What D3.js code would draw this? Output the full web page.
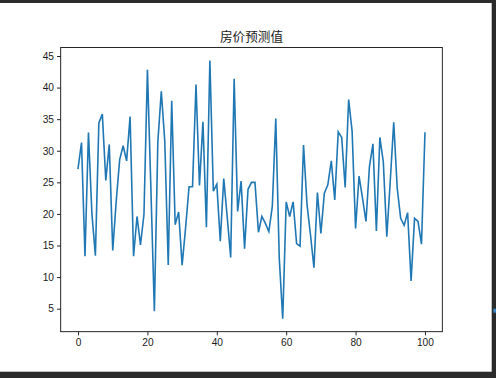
<!DOCTYPE html>
<html>
<head>
<meta charset="utf-8">
<script src="https://cdn.jsdelivr.net/npm/d3@7"></script>
<style>
  html, body { margin: 0; padding: 0; background: #2b2b2b; }
  svg { display: block; }
</style>
</head>
<body>
<div id="chart"></div>
<script>
// ---- data ----
const title = "房价预测值";
const predicted = [
  27.2, 31.3, 13.3, 32.9, 20.0, 13.4, 34.4, 35.8, 25.3, 31.0,
  14.2, 22.0, 28.6, 30.8, 28.4, 35.4, 13.3, 19.6, 15.1, 19.9,
  42.8, 24.0, 4.6, 31.4, 39.4, 31.5, 11.9, 37.9, 18.3, 20.3,
  11.9, 17.8, 24.3, 24.3, 40.5, 24.5, 34.6, 17.9, 44.3, 23.6,
  24.7, 15.7, 25.6, 19.5, 13.1, 41.4, 20.4, 25.2, 14.5, 23.9,
  25.0, 25.0, 17.1, 19.6, 18.5, 17.2, 21.2, 35.1, 13.0, 3.4,
  21.9, 19.6, 21.9, 15.3, 14.9, 30.9, 21.5, 16.7, 11.5, 23.4,
  16.9, 23.3, 24.6, 28.4, 22.2, 33.0, 32.1, 24.2, 38.1, 33.1,
  17.7, 26.0, 22.5, 18.8, 27.5, 31.1, 17.3, 32.1, 28.2, 16.4,
  25.2, 34.5, 24.1, 19.3, 18.2, 20.2, 9.4, 19.3, 18.8, 15.2,
  32.8
];
const xTicks = [0, 20, 40, 60, 80, 100];
const yTicks = [5, 10, 15, 20, 25, 30, 35, 40, 45];

// ---- layout ----
const W = 496, H = 378;
const plot = { left: 60.7, right: 442.3, top: 47.5, bottom: 331.7 };

const svg = d3.select("#chart").append("svg")
  .attr("width", W).attr("height", H);

// figure (white) area inside dark screenshot frame
svg.append("rect").attr("x", 0).attr("y", 3).attr("width", 491.7).attr("height", 368.7)
  .attr("fill", "#ffffff");
// small blue marker at right edge
svg.append("rect").attr("x", 493.3).attr("y", 308.7).attr("width", 2.7).attr("height", 4)
  .attr("fill", "#3c84c6");

const n = predicted.length;
const xs = d3.scaleLinear()
  .domain([-(n - 1) * 0.05, (n - 1) * 1.05])
  .range([plot.left, plot.right]);
const [ymin, ymax] = d3.extent(predicted);
const pad = (ymax - ymin) * 0.05;
const ys = d3.scaleLinear()
  .domain([ymin - pad, ymax + pad])
  .range([plot.bottom, plot.top]);

const fontTicks = "'Liberation Sans', Arial, sans-serif";

// x axis
const xAxis = svg.append("g")
  .attr("transform", `translate(0,${plot.bottom})`)
  .call(d3.axisBottom(xs).tickValues(xTicks).tickSize(3.7).tickPadding(3.2).tickFormat(d3.format("d")));
// y axis
const yAxis = svg.append("g")
  .attr("transform", `translate(${plot.left},0)`)
  .call(d3.axisLeft(ys).tickValues(yTicks).tickSize(3.7).tickPadding(3.0).tickFormat(d3.format("d")));

[xAxis, yAxis].forEach(a => {
  a.select(".domain").remove();
  a.selectAll(".tick line").attr("stroke", "#000").attr("stroke-width", 0.85);
  a.selectAll(".tick text").attr("fill", "#1a1a1a")
    .style("font-family", fontTicks).style("font-size", "10.2px");
});

// line
const line = d3.line()
  .x((d, i) => xs(i))
  .y(d => ys(d));
svg.append("path")
  .datum(predicted)
  .attr("fill", "none")
  .attr("stroke", "#1f77b4")
  .attr("stroke-width", 1.6)
  .attr("stroke-linejoin", "miter")
  .attr("stroke-linecap", "square")
  .attr("d", line);

// spines
svg.append("rect")
  .attr("x", plot.left).attr("y", plot.top)
  .attr("width", plot.right - plot.left).attr("height", plot.bottom - plot.top)
  .attr("fill", "none").attr("stroke", "#000").attr("stroke-width", 0.85);

// title
svg.append("text")
  .attr("x", (plot.left + plot.right) / 2).attr("y", 41.3)
  .attr("text-anchor", "middle")
  .style("font-family", "'Noto Sans CJK SC', sans-serif")
  .style("font-size", "12.6px")
  .attr("fill", "#1a1a1a")
  .text(title);
</script>
</body>
</html>
